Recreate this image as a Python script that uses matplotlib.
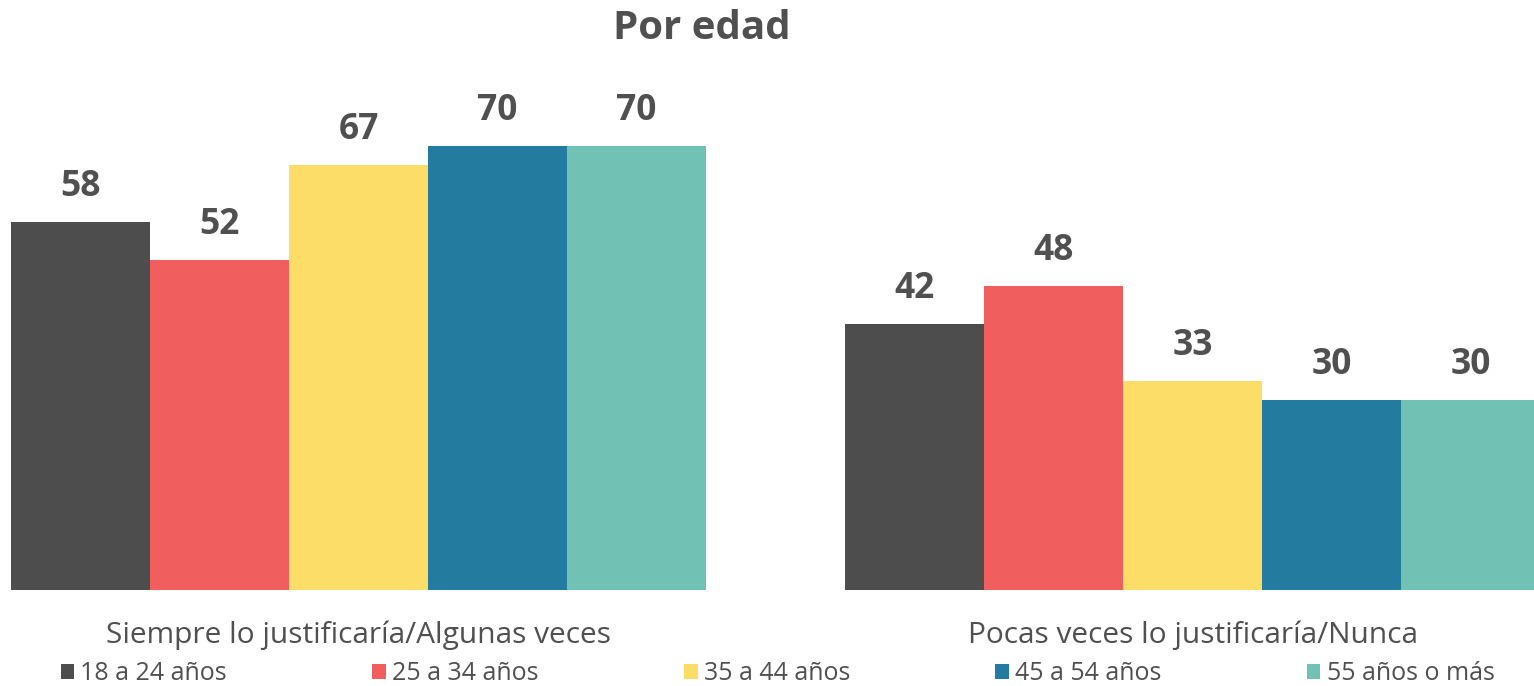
import numpy as np
import matplotlib.pyplot as plt
from matplotlib.patches import Patch

plt.rcParams['font.family'] = ['Open Sans', 'DejaVu Sans']

categorias = ['Siempre lo justificaría/Algunas veces', 'Pocas veces lo justificaría/Nunca']
edades = ['18 a 24 años', '25 a 34 años', '35 a 44 años', '45 a 54 años', '55 años o más']
valores = [
    [58, 42],
    [52, 48],
    [67, 33],
    [70, 30],
    [70, 30],
]
colores = ['#4d4d4d', '#f05f5d', '#fcdd67', '#237ba0', '#71c1b4']
texto = '#505050'

fig = plt.figure(figsize=(15.34, 6.86), dpi=100)
# the right-hand group runs slightly past the figure edge
ax = fig.add_axes([11/1534, 96/686, 1529/1534, 507/686])

x = np.arange(len(categorias))
w = 1/6
for i, (serie, c) in enumerate(zip(valores, colores)):
    pos = x + (i - 2) * w
    ax.bar(pos, serie, width=w, color=c, linewidth=0)
    for p, v in zip(pos, serie):
        ax.text(p, v + 2.7, str(v), ha='center', va='bottom', fontsize=25.5,
                fontweight='bold', color=texto)

ax.set_xlim(-2.5*w, 1 + 2.5*w)
ax.set_ylim(0, 80)
ax.set_xticks(x)
ax.set_xticklabels(categorias, fontsize=21.5, color=texto)
ax.tick_params(axis='x', length=0, pad=22)
ax.set_yticks([])
for s in ax.spines.values():
    s.set_visible(False)

fig.text(0.4576, 0.958, 'Por edad', ha='center', va='center', fontsize=29,
         fontweight='bold', color=texto)

handles = [Patch(facecolor=c, label=l) for c, l in zip(colores, edades)]
fig.legend(handles=handles, loc='center left', ncol=5, mode='expand',
           bbox_to_anchor=(38/1534, 12/686, 1479/1534, 0), frameon=False,
           fontsize=18, handlelength=0.55, handleheight=0.55, handletextpad=0.25,
           labelcolor=texto)

fig.savefig('out.png', dpi=100)
